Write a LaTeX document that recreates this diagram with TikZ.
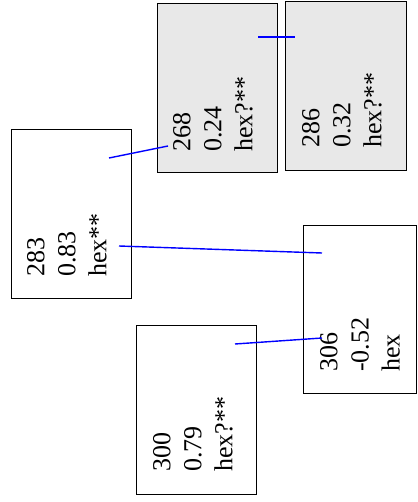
\documentclass[tikz,border=0pt]{standalone}
\usepackage{fontspec}
\setmainfont{Liberation Serif}
\definecolor{boxgray}{RGB}{232,232,232}
\begin{document}
\begin{tikzpicture}[x=1pt,y=-1pt,
  box/.style={draw=black,line width=1.3pt,rectangle,inner sep=0pt,anchor=north west,minimum width=120pt,minimum height=169pt},
  graybox/.style={box,fill=boxgray},
  lbl/.style={rotate=90,anchor=north west,inner sep=0pt,align=left,font=\fontsize{26}{31}\selectfont},
  link/.style={draw=blue,line width=1.4pt}]
\useasboundingbox (0,0) rectangle (417,502);
% boxes
\node[graybox] (b268) at (157,3) {};
\node[graybox,minimum width=121pt] (b286) at (285,1) {};
\node[box] (b283) at (11,129) {};
\node[box,minimum width=113pt,minimum height=168pt] (b306) at (303,225) {};
\node[box] (b300) at (136,325) {};
% labels
\node[lbl] (t268) at (173,152) {268\\0.24\\hex?**};
\node[lbl] (t286) at (302,148) {286\\0.32\\hex?**};
\node[lbl] (t283) at (27,277) {283\\0.83\\hex**};
\node[lbl] (t306) at (320,372) {306\\-0.52\\hex};
\node[lbl] (t300) at (153,472) {300\\0.79\\hex?**};
% connector ends
\coordinate (a1) at (109,158);
\coordinate (a2) at (168,146);
\coordinate (b1) at (258,37);
\coordinate (b2) at (295,37);
\coordinate (c1) at (119,246);
\coordinate (c2) at (322,253);
\coordinate (d1) at (235,344);
\coordinate (d2) at (322,338);
\draw[link] (a1) -- (a2);
\draw[link] (b1) -- (b2);
\draw[link] (c1) -- (c2);
\draw[link] (d1) -- (d2);
\end{tikzpicture}
\end{document}
